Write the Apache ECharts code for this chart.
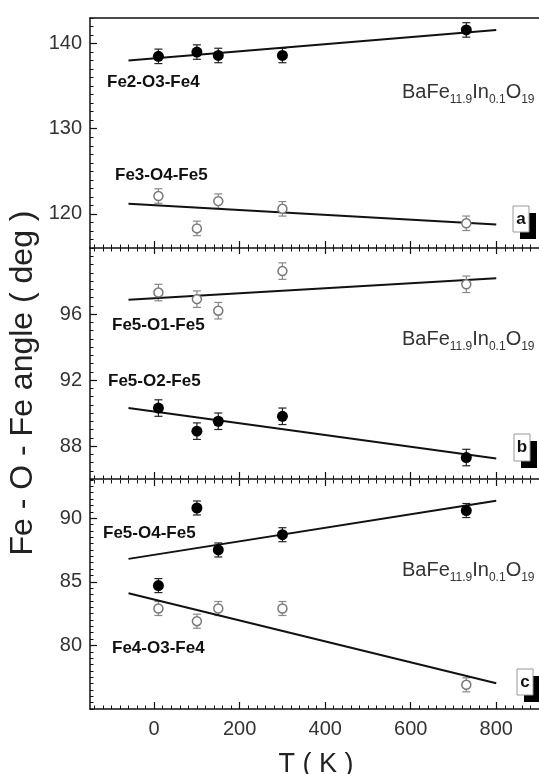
<!DOCTYPE html>
<html><head><meta charset="utf-8">
<script src="https://cdn.jsdelivr.net/npm/echarts@6/dist/echarts.min.js"></script>
<style>html,body{margin:0;padding:0;background:#fff}#c{width:539px;height:774px}</style>
</head><body><div id="c"></div>
<script>
// ---- data ----
const temps = [10, 100, 150, 300, 730];
// panel a
const fe2o3fe4 = [138.5, 139.0, 138.6, 138.6, 141.6];
const fe2o3fe4Err = [0.85, 0.85, 0.85, 0.85, 0.85];
const fe3o4fe5 = [122.1, 118.3, 121.5, 120.6, 118.9];
const fe3o4fe5Err = [0.85, 0.85, 0.85, 0.85, 0.85];
const fitA1 = [[-60, 138.0], [800, 141.6]];
const fitA2 = [[-60, 121.2], [800, 118.75]];
// panel b
const fe5o1fe5 = [97.3, 96.9, 96.2, 98.6, 97.8];
const fe5o1fe5Err = [0.5, 0.5, 0.5, 0.5, 0.5];
const fe5o2fe5 = [90.3, 88.9, 89.5, 89.8, 87.3];
const fe5o2fe5Err = [0.5, 0.5, 0.5, 0.5, 0.5];
const fitB1 = [[-60, 96.86], [800, 98.16]];
const fitB2 = [[-60, 90.3], [800, 87.24]];
// panel c
const fe5o4fe5 = [84.7, 90.8, 87.5, 88.7, 90.6];
const fe5o4fe5Err = [0.55, 0.55, 0.55, 0.55, 0.55];
const fe4o3fe4 = [82.9, 81.9, 82.9, 82.9, 76.9];
const fe4o3fe4Err = [0.55, 0.55, 0.55, 0.55, 0.55];
const fitC1 = [[-60, 86.8], [800, 91.37]];
const fitC2 = [[-60, 84.1], [800, 77.03]];
// ticks
const xTicks = [0, 200, 400, 600, 800];
const yTicksA = [120, 130, 140];
const yTicksB = [88, 92, 96];
const yTicksC = [80, 85, 90];
const xMinor = []; for (let v = -140; v <= 880; v += 20) xMinor.push(v);

const yRanges = [[116, 143], [86, 100], [75, 93]];
const yMinorStep = [1, 0.5, 0.5];
const grids = [
  {left: 90, top: 18, width: 451, height: 230},
  {left: 90, top: 248, width: 451, height: 231},
  {left: 90, top: 480, width: 451, height: 229}
];
const AX = '#111';
const LBL = '#333';
const FONT = '"Liberation Sans", Arial, sans-serif';

const xAxes = [], yAxes = [];
const xMain = [];
function xBase(i, pos) {
  return {gridIndex: i, type: 'value', min: -150, max: 900, position: pos,
    axisLine: {show: false, onZero: false}, axisLabel: {show: false}, splitLine: {show: false}, axisTick: {show: false}};
}
for (let i = 0; i < 3; i++) {
  xMain.push(xAxes.length);
  xAxes.push(Object.assign(xBase(i, 'bottom'), {
    axisLine: {show: true, onZero: false, lineStyle: {color: AX, width: 1.5}},
    axisTick: {show: true, inside: true, length: 7, customValues: xTicks, lineStyle: {color: AX, width: 1.2}},
    axisLabel: {show: i === 2, customValues: xTicks, fontSize: 20, color: LBL, margin: 10, fontFamily: FONT}}));
  xAxes.push(Object.assign(xBase(i, 'bottom'), {
    axisTick: {show: true, inside: true, length: 3.5, customValues: xMinor, lineStyle: {color: AX, width: 1}}}));
  if (i === 0) {
    xAxes.push(Object.assign(xBase(i, 'top'), {
      axisLine: {show: true, onZero: false, lineStyle: {color: AX, width: 1.5}}}));
  } else {
    xAxes.push(Object.assign(xBase(i, 'top'), {
      axisTick: {show: true, inside: true, length: 6, customValues: xTicks, lineStyle: {color: AX, width: 1.2}}}));
    xAxes.push(Object.assign(xBase(i, 'top'), {
      axisTick: {show: true, inside: true, length: 3.5, customValues: xMinor, lineStyle: {color: AX, width: 1}}}));
  }
}
const yTickSets = [yTicksA, yTicksB, yTicksC];
const yMain = [];
for (let i = 0; i < 3; i++) {
  yMain.push(yAxes.length);
  yAxes.push({gridIndex: i, type: 'value', min: yRanges[i][0], max: yRanges[i][1], position: 'left',
    axisLine: {show: true, onZero: false, lineStyle: {color: AX, width: 1.5}},
    axisTick: {show: true, inside: true, length: 7, customValues: yTickSets[i], lineStyle: {color: AX, width: 1.2}},
    axisLabel: {show: true, customValues: yTickSets[i], fontSize: 20, color: LBL, margin: 8, fontFamily: FONT},
    splitLine: {show: false}});
  yAxes.push({gridIndex: i, type: 'value', min: yRanges[i][0], max: yRanges[i][1], position: 'left', offset: 0,
    interval: yMinorStep[i],
    axisLine: {show: false, onZero: false}, axisLabel: {show: false}, splitLine: {show: false},
    axisTick: {show: true, inside: true, length: 3.5, lineStyle: {color: AX, width: 1}}});
}

function errSeries(panel, vals, errs, color) {
  return {type: 'custom', xAxisIndex: xMain[panel], yAxisIndex: yMain[panel], z: 3, silent: true,
    data: temps.map((t, k) => [t, vals[k], errs[k]]),
    renderItem: function (params, api) {
      const x = api.value(0), y = api.value(1), e = api.value(2);
      const p1 = api.coord([x, y + e]), p2 = api.coord([x, y - e]);
      const hw = 4, st = {stroke: color, lineWidth: 1.2};
      return {type: 'group', children: [
        {type: 'line', shape: {x1: p1[0], y1: p1[1], x2: p2[0], y2: p2[1]}, style: st},
        {type: 'line', shape: {x1: p1[0] - hw, y1: p1[1], x2: p1[0] + hw, y2: p1[1]}, style: st},
        {type: 'line', shape: {x1: p2[0] - hw, y1: p2[1], x2: p2[0] + hw, y2: p2[1]}, style: st}
      ]};
    }};
}
function pts(panel, vals, filled) {
  return {type: 'scatter', xAxisIndex: xMain[panel], yAxisIndex: yMain[panel], z: 5, silent: true,
    symbol: 'circle', symbolSize: filled ? 11 : 9,
    itemStyle: filled ? {color: '#000', opacity: 1} : {color: '#fff', borderColor: '#7a7a7a', borderWidth: 1.5, opacity: 1},
    data: temps.map((t, k) => [t, vals[k]])};
}
function fit(panel, d) {
  return {type: 'line', xAxisIndex: xMain[panel], yAxisIndex: yMain[panel], z: 4, silent: true,
    symbol: 'none', lineStyle: {color: '#111', width: 2}, data: d};
}

const series = [
  fit(0, fitA1), fit(0, fitA2),
  errSeries(0, fe2o3fe4, fe2o3fe4Err, '#222'), errSeries(0, fe3o4fe5, fe3o4fe5Err, '#888'),
  pts(0, fe2o3fe4, true), pts(0, fe3o4fe5, false),
  fit(1, fitB1), fit(1, fitB2),
  errSeries(1, fe5o1fe5, fe5o1fe5Err, '#888'), errSeries(1, fe5o2fe5, fe5o2fe5Err, '#222'),
  pts(1, fe5o1fe5, false), pts(1, fe5o2fe5, true),
  fit(2, fitC1), fit(2, fitC2),
  errSeries(2, fe5o4fe5, fe5o4fe5Err, '#222'), errSeries(2, fe4o3fe4, fe4o3fe4Err, '#888'),
  pts(2, fe5o4fe5, true), pts(2, fe4o3fe4, false)
];

// annotations
const seriesLabels = [
  ['Fe2-O3-Fe4', 107, 82], ['Fe3-O4-Fe5', 115, 175],
  ['Fe5-O1-Fe5', 112, 325], ['Fe5-O2-Fe5', 108, 381],
  ['Fe5-O4-Fe5', 103, 533], ['Fe4-O3-Fe4', 112, 648]
];
const graphic = [];
seriesLabels.forEach(l => graphic.push({type: 'text', x: l[1], y: l[2], z: 10,
  style: {text: l[0], font: 'bold 17px ' + FONT, fill: '#111', align: 'left', verticalAlign: 'middle'}}));
[92, 339, 570].forEach(y => graphic.push({type: 'text', x: 402, y: y - 14, z: 10,
  style: {text: '{m|BaFe}{s|11.9}{m|In}{s|0.1}{m|O}{s|19}', align: 'left', verticalAlign: 'top',
    rich: {m: {fontSize: 20, fontFamily: FONT, fill: '#333', lineHeight: 28, verticalAlign: 'middle'},
           s: {fontSize: 12, fontFamily: FONT, fill: '#333', lineHeight: 12, verticalAlign: 'bottom'}}}}));
[['a', 513, 206, 16, 26], ['b', 514, 434, 16, 27], ['c', 517, 669, 16, 26]].forEach(b => {
  graphic.push({type: 'rect', z: 10, shape: {x: b[1] + 7, y: b[2] + 7, width: b[3], height: b[4]}, style: {fill: '#000'}});
  graphic.push({type: 'rect', z: 11, shape: {x: b[1], y: b[2], width: b[3], height: b[4]}, style: {fill: '#fff', stroke: '#999', lineWidth: 1}});
  graphic.push({type: 'text', z: 12, x: b[1] + b[3] / 2, y: b[2] + b[4] / 2,
    style: {text: b[0], font: 'bold 17px ' + FONT, fill: '#111', align: 'center', verticalAlign: 'middle'}});
});
graphic.push({type: 'text', x: 23, y: 383, rotation: Math.PI / 2, z: 10,
  style: {text: 'Fe - O - Fe angle ( deg )', font: '32px ' + FONT, fill: '#222', align: 'center', verticalAlign: 'middle'}});
graphic.push({type: 'text', x: 316, y: 765, z: 10,
  style: {text: 'T ( K )', font: '27px ' + FONT, fill: '#222', align: 'center', verticalAlign: 'middle'}});

const chart = echarts.init(document.getElementById('c'), null, {renderer: 'canvas'});
chart.setOption({
  animation: false,
  backgroundColor: '#fff',
  grid: grids,
  xAxis: xAxes,
  yAxis: yAxes,
  series: series,
  graphic: graphic
});
</script>
</body></html>
